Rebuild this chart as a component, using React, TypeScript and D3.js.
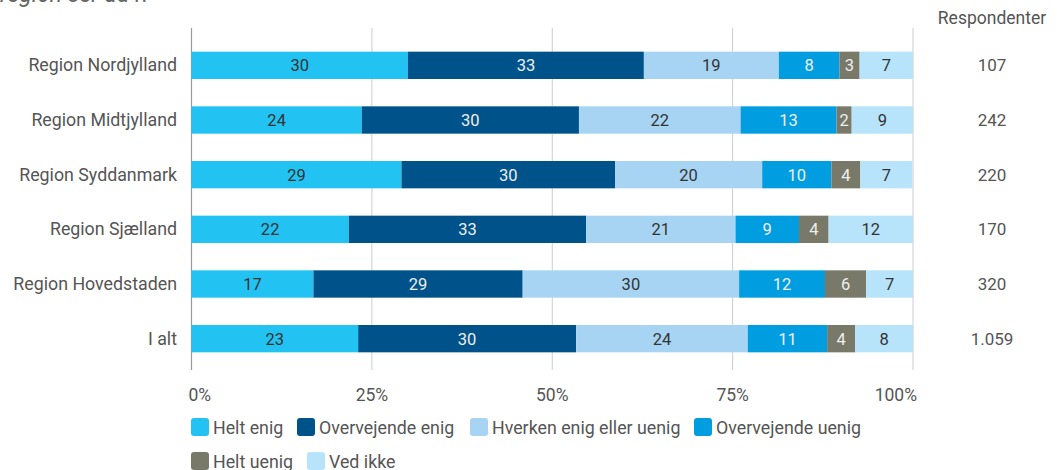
import React from "react";
import * as d3 from "d3";

const categories = [
  "Region Nordjylland",
  "Region Midtjylland",
  "Region Syddanmark",
  "Region Sjælland",
  "Region Hovedstaden",
  "I alt",
];
const seriesNames = [
  "Helt enig",
  "Overvejende enig",
  "Hverken enig eller uenig",
  "Overvejende uenig",
  "Helt uenig",
  "Ved ikke",
];
const heltEnig = [30.0, 23.6, 29.1, 21.8, 16.9, 23.1];
const overvejendeEnig = [32.7, 30.1, 29.6, 32.9, 29.0, 30.2];
const hverken = [18.7, 22.4, 20.4, 20.7, 30.0, 23.8];
const overvejendeUenig = [8.4, 13.3, 9.6, 8.8, 11.9, 11.0];
const heltUenig = [2.8, 2.1, 4.0, 4.1, 5.7, 3.9];
const vedIkke = [7.4, 8.5, 7.2, 11.7, 6.5, 8.0];
const respondenter = ["107", "242", "220", "170", "320", "1.059"];
const tickValues = [0, 25, 50, 75, 100];

const colors = ["#22c3f3", "#00538a", "#a8d4f4", "#009ee0", "#79796a", "#b7e4fa"];
const textColors = ["#333", "#eee", "#333", "#eee", "#eee", "#333"];

const W = 1057;
const H = 470;
const FONT = "Roboto, 'Noto Sans', sans-serif";

export default function App() {
  const seriesArrays = [heltEnig, overvejendeEnig, hverken, overvejendeUenig, heltUenig, vedIkke];
  const rows = categories.map((c, i) => {
    const r: any = { cat: c };
    seriesNames.forEach((s, j) => (r[s] = seriesArrays[j][i]));
    return r;
  });
  const stack = d3.stack<any>().keys(seriesNames);
  const stacked = stack(rows);

  const x = d3.scaleLinear().domain([0, 100]).range([191.5, 913]);
  const y = d3
    .scaleBand<string>()
    .domain(categories)
    .range([38, 366])
    .paddingInner(0.5)
    .paddingOuter(0.25);
  const bw = y.bandwidth();

  const legendItems = [
    { i: 0, x: 191, y: 427 },
    { i: 1, x: 297, y: 427 },
    { i: 2, x: 470, y: 427 },
    { i: 3, x: 694, y: 427 },
    { i: 4, x: 191, y: 461 },
    { i: 5, x: 307, y: 461 },
  ];

  return (
    <svg
      width={W}
      height={H}
      style={{ position: "absolute", left: 0, top: 0, background: "#fff" }}
      fontFamily={FONT}
    >
      <text x={0} y={2} fontSize={23} fontStyle="italic" fill="#666">
        region ser du i?
      </text>
      {/* gridlines */}
      {tickValues.map((t, k) => (
        <line
          key={t}
          x1={x(t)}
          x2={x(t)}
          y1={28}
          y2={370}
          stroke={k === 0 ? "#999" : "#ccc"}
          strokeWidth={k === 0 ? 1.2 : 1}
        />
      ))}
      {/* bars */}
      {stacked.map((s, j) => (
        <g key={s.key}>
          {s.map((d, i) => {
            const x0 = x(d[0]);
            const x1 = x(d[1]);
            const yy = y(categories[i])!;
            const v = seriesArrays[j][i];
            return (
              <g key={i}>
                <rect x={x0} y={yy} width={x1 - x0} height={bw} fill={colors[j]} />
                <text
                  x={(x0 + x1) / 2}
                  y={yy + bw / 2 + 6}
                  textAnchor="middle"
                  fontSize={16.5}
                  fill={textColors[j]}
                >
                  {Math.round(v)}
                </text>
              </g>
            );
          })}
        </g>
      ))}
      {/* category labels */}
      {categories.map((c) => (
        <text
          key={c}
          x={177}
          y={y(c)! + bw / 2 + 6}
          textAnchor="end"
          fontSize={17.8}
          fill="#555"
        >
          {c}
        </text>
      ))}
      {/* respondenter */}
      <text x={992} y={24} textAnchor="middle" fontSize={17.5} fill="#555">
        Respondenter
      </text>
      {categories.map((c, i) => (
        <text
          key={c}
          x={992}
          y={y(c)! + bw / 2 + 6}
          textAnchor="middle"
          fontSize={17}
          fill="#555"
        >
          {respondenter[i]}
        </text>
      ))}
      {/* x axis labels */}
      {tickValues.map((t, k) => (
        <text
          key={t}
          x={k === 0 ? x(t) - 3 : k === tickValues.length - 1 ? x(t) + 4 : x(t)}
          y={401}
          textAnchor={k === 0 ? "start" : k === tickValues.length - 1 ? "end" : "middle"}
          fontSize={17.5}
          fill="#555"
        >
          {t}%
        </text>
      ))}
      {/* legend */}
      {legendItems.map((l) => (
        <g key={l.i}>
          <rect x={l.x} y={l.y - 9} width={18} height={18} rx={3} fill={colors[l.i]} />
          <text x={l.x + 22} y={l.y + 6.5} fontSize={17.8} fill="#555">
            {seriesNames[l.i]}
          </text>
        </g>
      ))}
    </svg>
  );
}
